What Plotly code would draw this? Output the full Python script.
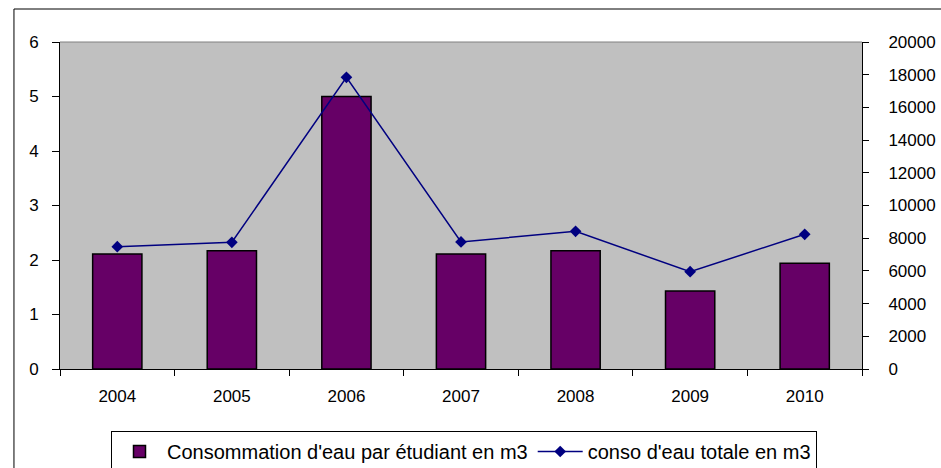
import plotly.graph_objects as go

years = ["2004", "2005", "2006", "2007", "2008", "2009", "2010"]
per_student = [2.11, 2.17, 5.0, 2.11, 2.17, 1.43, 1.94]
total = [7480, 7750, 17840, 7770, 8420, 5950, 8240]

fig = go.Figure()
fig.add_trace(go.Bar(
    x=years, y=per_student, name="Consommation d'eau par étudiant en m3",
    marker=dict(color="#660066", line=dict(color="black", width=1.5)),
    width=0.43, yaxis="y",
))
fig.add_trace(go.Scatter(
    x=years, y=total, name="conso d'eau totale en m3", mode="lines+markers",
    line=dict(color="#000080", width=1.5),
    marker=dict(symbol="diamond", size=9, color="#000080"),
    yaxis="y2",
))

font = dict(family="Liberation Sans, Arial, sans-serif", size=17, color="black")
fig.update_layout(
    width=941, height=468,
    margin=dict(l=60, r=79, t=42, b=99),
    paper_bgcolor="white", plot_bgcolor="#C0C0C0",
    font=font,
    showlegend=True,
    xaxis=dict(
        type="category", showline=True, linecolor="black", linewidth=1,
        ticks="outside", ticklen=6, tickcolor="black", tickson="boundaries",
        showgrid=False, tickfont=font, automargin=False, ticklabelstandoff=12,
    ),
    yaxis=dict(
        range=[0, 6], dtick=1, showline=True, linecolor="black", linewidth=1,
        ticks="outside", ticklen=7, tickcolor="black", showgrid=False,
        zeroline=False, tickfont=font, automargin=False, ticklabelstandoff=10,
    ),
    yaxis2=dict(
        range=[0, 20000], dtick=2000, overlaying="y", side="right",
        showline=True, linecolor="black", linewidth=1, tickformat="d",
        ticks="outside", ticklen=6, tickcolor="black", showgrid=False,
        zeroline=False, tickfont=font, automargin=False, ticklabelstandoff=16,
    ),
    legend=dict(
        orientation="h", x=464 / 941, xanchor="center", xref="container",
        y=(468 - 431) / 468, yanchor="top", yref="container",
        bordercolor="black", borderwidth=1, bgcolor="white",
        font=dict(family="Liberation Sans, Arial, sans-serif", size=20, color="black"),
        traceorder="normal", itemwidth=45,
    ),
    shapes=[
        dict(type="rect", xref="paper", yref="paper", x0=-0.0574, x1=1.2,
             y0=-0.5, y1=1.1009, line=dict(color="black", width=1), layer="below"),
        dict(type="line", xref="paper", yref="paper", x0=0, x1=1, y0=1, y1=1,
             line=dict(color="#808080", width=1)),
    ],
)

fig.write_html("out.html", config={"displayModeBar": False},
               post_script="document.body.style.margin='0';")
